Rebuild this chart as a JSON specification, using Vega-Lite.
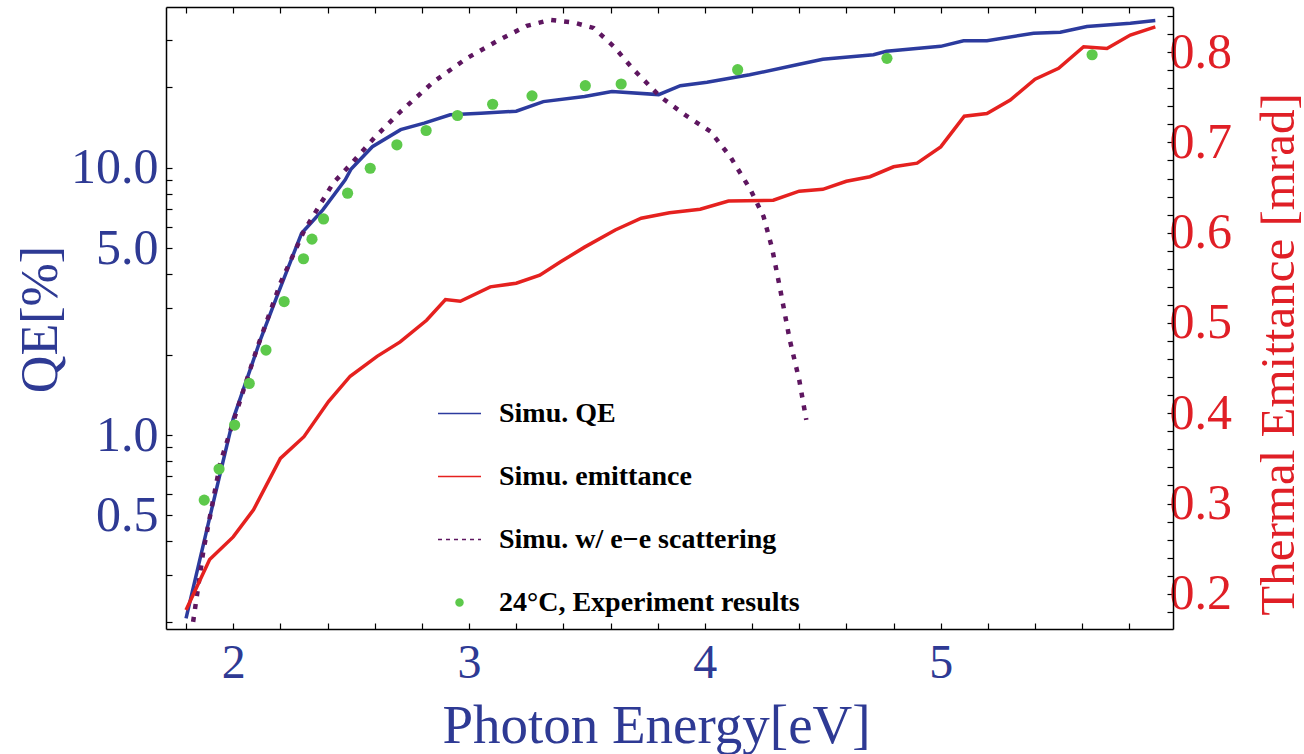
{
  "$schema": "https://vega.github.io/schema/vega-lite/v6.json",
  "width": 1007,
  "height": 622,
  "autosize": "none",
  "padding": {"left": 166, "top": 7, "right": 131, "bottom": 125},
  "background": "white",
  "config": {"view": {"stroke": null}, "font": "Liberation Serif"},
  "data": {"values": [
    {"s": "Simu. QE", "E": 1.80, "v": 0.206},
    {"s": "Simu. QE", "E": 1.90, "v": 0.49},
    {"s": "Simu. QE", "E": 2.00, "v": 1.15},
    {"s": "Simu. QE", "E": 2.115, "v": 2.27},
    {"s": "Simu. QE", "E": 2.185, "v": 3.30},
    {"s": "Simu. QE", "E": 2.29, "v": 5.69},
    {"s": "Simu. QE", "E": 2.38, "v": 6.96},
    {"s": "Simu. QE", "E": 2.475, "v": 9.02},
    {"s": "Simu. QE", "E": 2.50, "v": 9.9},
    {"s": "Simu. QE", "E": 2.59, "v": 12.0},
    {"s": "Simu. QE", "E": 2.71, "v": 13.9},
    {"s": "Simu. QE", "E": 2.81, "v": 14.7},
    {"s": "Simu. QE", "E": 2.92, "v": 15.8},
    {"s": "Simu. QE", "E": 3.05, "v": 16.0},
    {"s": "Simu. QE", "E": 3.20, "v": 16.3},
    {"s": "Simu. QE", "E": 3.315, "v": 17.7},
    {"s": "Simu. QE", "E": 3.49, "v": 18.5},
    {"s": "Simu. QE", "E": 3.606, "v": 19.3},
    {"s": "Simu. QE", "E": 3.804, "v": 18.8},
    {"s": "Simu. QE", "E": 3.896, "v": 20.3},
    {"s": "Simu. QE", "E": 4.009, "v": 20.9},
    {"s": "Simu. QE", "E": 4.19, "v": 22.3},
    {"s": "Simu. QE", "E": 4.39, "v": 24.3},
    {"s": "Simu. QE", "E": 4.50, "v": 25.5},
    {"s": "Simu. QE", "E": 4.715, "v": 26.5},
    {"s": "Simu. QE", "E": 4.77, "v": 27.3},
    {"s": "Simu. QE", "E": 5.00, "v": 28.5},
    {"s": "Simu. QE", "E": 5.097, "v": 29.9},
    {"s": "Simu. QE", "E": 5.196, "v": 29.9},
    {"s": "Simu. QE", "E": 5.394, "v": 31.9},
    {"s": "Simu. QE", "E": 5.507, "v": 32.2},
    {"s": "Simu. QE", "E": 5.62, "v": 33.8},
    {"s": "Simu. QE", "E": 5.804, "v": 34.8},
    {"s": "Simu. QE", "E": 5.91, "v": 35.6},

    {"s": "Simu. emittance", "E": 1.80, "v": 0.182},
    {"s": "Simu. emittance", "E": 1.90, "v": 0.238},
    {"s": "Simu. emittance", "E": 2.00, "v": 0.263},
    {"s": "Simu. emittance", "E": 2.086, "v": 0.293},
    {"s": "Simu. emittance", "E": 2.20, "v": 0.350},
    {"s": "Simu. emittance", "E": 2.30, "v": 0.374},
    {"s": "Simu. emittance", "E": 2.404, "v": 0.413},
    {"s": "Simu. emittance", "E": 2.496, "v": 0.441},
    {"s": "Simu. emittance", "E": 2.61, "v": 0.463},
    {"s": "Simu. emittance", "E": 2.708, "v": 0.479},
    {"s": "Simu. emittance", "E": 2.82, "v": 0.503},
    {"s": "Simu. emittance", "E": 2.90, "v": 0.526},
    {"s": "Simu. emittance", "E": 2.963, "v": 0.524},
    {"s": "Simu. emittance", "E": 3.09, "v": 0.540},
    {"s": "Simu. emittance", "E": 3.20, "v": 0.544},
    {"s": "Simu. emittance", "E": 3.30, "v": 0.553},
    {"s": "Simu. emittance", "E": 3.39, "v": 0.568},
    {"s": "Simu. emittance", "E": 3.49, "v": 0.584},
    {"s": "Simu. emittance", "E": 3.62, "v": 0.603},
    {"s": "Simu. emittance", "E": 3.73, "v": 0.616},
    {"s": "Simu. emittance", "E": 3.85, "v": 0.622},
    {"s": "Simu. emittance", "E": 3.98, "v": 0.626},
    {"s": "Simu. emittance", "E": 4.10, "v": 0.635},
    {"s": "Simu. emittance", "E": 4.29, "v": 0.636},
    {"s": "Simu. emittance", "E": 4.40, "v": 0.646},
    {"s": "Simu. emittance", "E": 4.50, "v": 0.648},
    {"s": "Simu. emittance", "E": 4.60, "v": 0.657},
    {"s": "Simu. emittance", "E": 4.70, "v": 0.662},
    {"s": "Simu. emittance", "E": 4.80, "v": 0.673},
    {"s": "Simu. emittance", "E": 4.90, "v": 0.677},
    {"s": "Simu. emittance", "E": 5.00, "v": 0.695},
    {"s": "Simu. emittance", "E": 5.10, "v": 0.729},
    {"s": "Simu. emittance", "E": 5.196, "v": 0.732},
    {"s": "Simu. emittance", "E": 5.295, "v": 0.747},
    {"s": "Simu. emittance", "E": 5.40, "v": 0.770},
    {"s": "Simu. emittance", "E": 5.50, "v": 0.782},
    {"s": "Simu. emittance", "E": 5.606, "v": 0.806},
    {"s": "Simu. emittance", "E": 5.705, "v": 0.804},
    {"s": "Simu. emittance", "E": 5.804, "v": 0.819},
    {"s": "Simu. emittance", "E": 5.91, "v": 0.828},

    {"s": "Simu. w/ e−e scattering", "E": 1.83, "v": 0.20},
    {"s": "Simu. w/ e−e scattering", "E": 1.874, "v": 0.371},
    {"s": "Simu. w/ e−e scattering", "E": 1.945, "v": 0.786},
    {"s": "Simu. w/ e−e scattering", "E": 2.00, "v": 1.12},
    {"s": "Simu. w/ e−e scattering", "E": 2.10, "v": 2.1},
    {"s": "Simu. w/ e−e scattering", "E": 2.20, "v": 3.7},
    {"s": "Simu. w/ e−e scattering", "E": 2.30, "v": 5.8},
    {"s": "Simu. w/ e−e scattering", "E": 2.424, "v": 8.77},
    {"s": "Simu. w/ e−e scattering", "E": 2.496, "v": 10.26},
    {"s": "Simu. w/ e−e scattering", "E": 2.60, "v": 13.0},
    {"s": "Simu. w/ e−e scattering", "E": 2.708, "v": 16.2},
    {"s": "Simu. w/ e−e scattering", "E": 2.85, "v": 21.0},
    {"s": "Simu. w/ e−e scattering", "E": 2.99, "v": 25.7},
    {"s": "Simu. w/ e−e scattering", "E": 3.13, "v": 30.2},
    {"s": "Simu. w/ e−e scattering", "E": 3.245, "v": 34.0},
    {"s": "Simu. w/ e−e scattering", "E": 3.344, "v": 35.8},
    {"s": "Simu. w/ e−e scattering", "E": 3.443, "v": 35.0},
    {"s": "Simu. w/ e−e scattering", "E": 3.528, "v": 33.4},
    {"s": "Simu. w/ e−e scattering", "E": 3.613, "v": 28.5},
    {"s": "Simu. w/ e−e scattering", "E": 3.698, "v": 23.3},
    {"s": "Simu. w/ e−e scattering", "E": 3.81, "v": 18.5},
    {"s": "Simu. w/ e−e scattering", "E": 3.924, "v": 15.6},
    {"s": "Simu. w/ e−e scattering", "E": 4.023, "v": 13.7},
    {"s": "Simu. w/ e−e scattering", "E": 4.108, "v": 11.0},
    {"s": "Simu. w/ e−e scattering", "E": 4.193, "v": 8.3},
    {"s": "Simu. w/ e−e scattering", "E": 4.249, "v": 6.57},
    {"s": "Simu. w/ e−e scattering", "E": 4.285, "v": 5.0},
    {"s": "Simu. w/ e−e scattering", "E": 4.32, "v": 3.49},
    {"s": "Simu. w/ e−e scattering", "E": 4.36, "v": 2.27},
    {"s": "Simu. w/ e−e scattering", "E": 4.40, "v": 1.61},
    {"s": "Simu. w/ e−e scattering", "E": 4.43, "v": 1.14},

    {"s": "24°C, Experiment results", "E": 1.877, "v": 0.571},
    {"s": "24°C, Experiment results", "E": 1.94, "v": 0.746},
    {"s": "24°C, Experiment results", "E": 2.006, "v": 1.09},
    {"s": "24°C, Experiment results", "E": 2.068, "v": 1.56},
    {"s": "24°C, Experiment results", "E": 2.139, "v": 2.08},
    {"s": "24°C, Experiment results", "E": 2.216, "v": 3.16},
    {"s": "24°C, Experiment results", "E": 2.298, "v": 4.57},
    {"s": "24°C, Experiment results", "E": 2.334, "v": 5.41},
    {"s": "24°C, Experiment results", "E": 2.383, "v": 6.44},
    {"s": "24°C, Experiment results", "E": 2.485, "v": 8.04},
    {"s": "24°C, Experiment results", "E": 2.581, "v": 9.97},
    {"s": "24°C, Experiment results", "E": 2.694, "v": 12.2},
    {"s": "24°C, Experiment results", "E": 2.818, "v": 13.8},
    {"s": "24°C, Experiment results", "E": 2.951, "v": 15.7},
    {"s": "24°C, Experiment results", "E": 3.10, "v": 17.3},
    {"s": "24°C, Experiment results", "E": 3.267, "v": 18.6},
    {"s": "24°C, Experiment results", "E": 3.493, "v": 20.3},
    {"s": "24°C, Experiment results", "E": 3.645, "v": 20.6},
    {"s": "24°C, Experiment results", "E": 4.139, "v": 23.3},
    {"s": "24°C, Experiment results", "E": 4.772, "v": 25.7},
    {"s": "24°C, Experiment results", "E": 5.642, "v": 26.5}
  ]},
  "layer": [
    {
      "transform": [{"filter": "datum.s === 'Simu. QE'"}],
      "mark": {"type": "line", "strokeWidth": 3.5, "clip": true},
      "encoding": {
        "x": {"field": "E", "type": "quantitative",
          "scale": {"domain": [1.715, 5.985], "nice": false, "zero": false},
          "axis": {"orient": "bottom", "grid": false,
            "values": [1.8, 2, 2.2, 2.4, 2.6, 2.8, 3, 3.2, 3.4, 3.6, 3.8, 4, 4.2, 4.4, 4.6, 4.8, 5, 5.2, 5.4, 5.6, 5.8],
            "labelExpr": "abs(datum.value - round(datum.value)) < 0.001 ? format(datum.value, 'd') : ''",
            "tickSize": -6, "tickColor": "black", "tickWidth": 1.2,
            "domainColor": "black", "domainWidth": 1.5,
            "labelFont": "Liberation Serif", "labelFontSize": 48, "labelColor": "#2E3A94",
            "labelPadding": 16, "labelOverlap": false, "labelFlush": false,
            "title": "Photon Energy[eV]", "titleFont": "Liberation Serif", "titleFontSize": 55,
            "titleFontWeight": "normal", "titleColor": "#2E3A94",
            "titleX": 490, "titleY": 113, "titleBaseline": "alphabetic", "titleAlign": "center"}},
        "y": {"field": "v", "type": "quantitative",
          "scale": {"type": "log", "domain": [0.188, 40], "nice": false},
          "axis": {"orient": "left", "grid": false,
            "values": [0.2, 0.3, 0.4, 0.5, 0.6, 0.7, 0.8, 0.9, 1, 2, 3, 4, 5, 6, 7, 8, 9, 10, 20, 30],
            "labelExpr": "(abs(datum.value - 0.5) < 0.001 || abs(datum.value - 1) < 0.001 || abs(datum.value - 5) < 0.001 || abs(datum.value - 10) < 0.001) ? format(datum.value, '.1f') : ''",
            "tickSize": -6, "tickColor": "black", "tickWidth": 1.2,
            "domainColor": "black", "domainWidth": 1.5,
            "labelFont": "Liberation Serif", "labelFontSize": 50, "labelColor": "#2E3A94",
            "labelPadding": 14, "labelOverlap": false, "labelFlush": false, "labelBaseline": "middle",
            "title": "QE[%]", "titleFont": "Liberation Serif", "titleFontSize": 52,
            "titleFontWeight": "normal", "titleColor": "#2E3A94", "titleAngle": 270,
            "titleX": -110, "titleY": 312, "titleBaseline": "alphabetic", "titleAlign": "center"}},
        "color": {"field": "s", "type": "nominal",
          "scale": {"domain": ["Simu. QE", "Simu. emittance", "Simu. w/ e−e scattering", "24°C, Experiment results"],
                    "range": ["#2C3B9E", "#E5211F", "#5E1660", "#5DC94B"]},
          "legend": {"orient": "none", "legendX": 271, "legendY": 384, "title": null,
            "symbolType": "stroke", "symbolSize": 1849, "symbolStrokeWidth": 1.4,
            "labelFont": "Liberation Serif", "labelFontWeight": "bold", "labelFontSize": 28,
            "labelColor": "black", "labelOffset": 17, "rowPadding": 26, "labelLimit": 500,
            "encode": {"symbols": {"update": {
              "shape": {"signal": "datum.value === '24°C, Experiment results' ? 'circle' : 'stroke'"},
              "size": {"signal": "datum.value === '24°C, Experiment results' ? 50 : 1849"},
              "strokeDash": {"signal": "datum.value === 'Simu. w/ e−e scattering' ? [4, 4] : []"},
              "fill": {"signal": "datum.value === '24°C, Experiment results' ? '#5DC94B' : 'transparent'"},
              "stroke": {"signal": "datum.value === '24°C, Experiment results' ? 'transparent' : scale('color', datum.value)"},
              "strokeWidth": {"value": 1.4},
              "opacity": {"value": 1}
            }}}}}
      }
    },
    {
      "transform": [{"filter": "datum.s === 'Simu. w/ e−e scattering'"}],
      "mark": {"type": "line", "strokeWidth": 4.5, "strokeDash": [5, 8], "clip": true},
      "encoding": {
        "x": {"field": "E", "type": "quantitative",
          "scale": {"domain": [1.715, 5.985], "nice": false, "zero": false}, "axis": null},
        "y": {"field": "v", "type": "quantitative",
          "scale": {"type": "log", "domain": [0.188, 40], "nice": false}, "axis": null},
        "color": {"field": "s", "type": "nominal",
          "scale": {"domain": ["Simu. QE", "Simu. emittance", "Simu. w/ e−e scattering", "24°C, Experiment results"],
                    "range": ["#2C3B9E", "#E5211F", "#5E1660", "#5DC94B"]}}
      }
    },
    {
      "transform": [{"filter": "datum.s === '24°C, Experiment results'"}],
      "mark": {"type": "point", "filled": true, "size": 125, "opacity": 1, "clip": true},
      "encoding": {
        "x": {"field": "E", "type": "quantitative",
          "scale": {"domain": [1.715, 5.985], "nice": false, "zero": false}, "axis": null},
        "y": {"field": "v", "type": "quantitative",
          "scale": {"type": "log", "domain": [0.188, 40], "nice": false}, "axis": null},
        "color": {"field": "s", "type": "nominal",
          "scale": {"domain": ["Simu. QE", "Simu. emittance", "Simu. w/ e−e scattering", "24°C, Experiment results"],
                    "range": ["#2C3B9E", "#E5211F", "#5E1660", "#5DC94B"]}}
      }
    },
    {
      "transform": [{"filter": "datum.s === 'Simu. emittance'"}],
      "mark": {"type": "line", "strokeWidth": 3.5, "clip": true},
      "encoding": {
        "x": {"field": "E", "type": "quantitative",
          "scale": {"domain": [1.715, 5.985], "nice": false, "zero": false},
          "axis": {"orient": "top", "grid": false, "labels": false, "title": null,
            "values": [1.8, 2, 2.2, 2.4, 2.6, 2.8, 3, 3.2, 3.4, 3.6, 3.8, 4, 4.2, 4.4, 4.6, 4.8, 5, 5.2, 5.4, 5.6, 5.8],
            "tickSize": -6, "tickColor": "black", "tickWidth": 1.2,
            "domainColor": "black", "domainWidth": 1.5}},
        "y": {"field": "v", "type": "quantitative",
          "scale": {"domain": [0.161, 0.85], "nice": false, "zero": false},
          "axis": {"orient": "right", "grid": false,
            "values": [0.16, 0.18, 0.2, 0.22, 0.24, 0.26, 0.28, 0.3, 0.32, 0.34, 0.36, 0.38, 0.4, 0.42, 0.44, 0.46, 0.48, 0.5, 0.52, 0.54, 0.56, 0.58, 0.6, 0.62, 0.64, 0.66, 0.68, 0.7, 0.72, 0.74, 0.76, 0.78, 0.8, 0.82, 0.84],
            "labelExpr": "abs(datum.value * 10 - round(datum.value * 10)) < 0.001 ? format(datum.value, '.1f') : ''",
            "tickSize": -6, "tickColor": "black", "tickWidth": 1.2,
            "domainColor": "black", "domainWidth": 1.5,
            "labelFont": "Liberation Serif", "labelFontSize": 50, "labelColor": "#E01F26",
            "labelPadding": 2, "labelOverlap": false, "labelFlush": false, "labelBaseline": "middle",
            "title": "Thermal Emittance [mrad]", "titleFont": "Liberation Serif", "titleFontSize": 49,
            "titleFontWeight": "normal", "titleColor": "#E01F26", "titleAngle": 270,
            "titleX": 120, "titleY": 347, "titleBaseline": "alphabetic", "titleAlign": "center"}},
        "color": {"field": "s", "type": "nominal",
          "scale": {"domain": ["Simu. QE", "Simu. emittance", "Simu. w/ e−e scattering", "24°C, Experiment results"],
                    "range": ["#2C3B9E", "#E5211F", "#5E1660", "#5DC94B"]}}
      }
    }
  ],
  "resolve": {"scale": {"y": "independent"}}
}
